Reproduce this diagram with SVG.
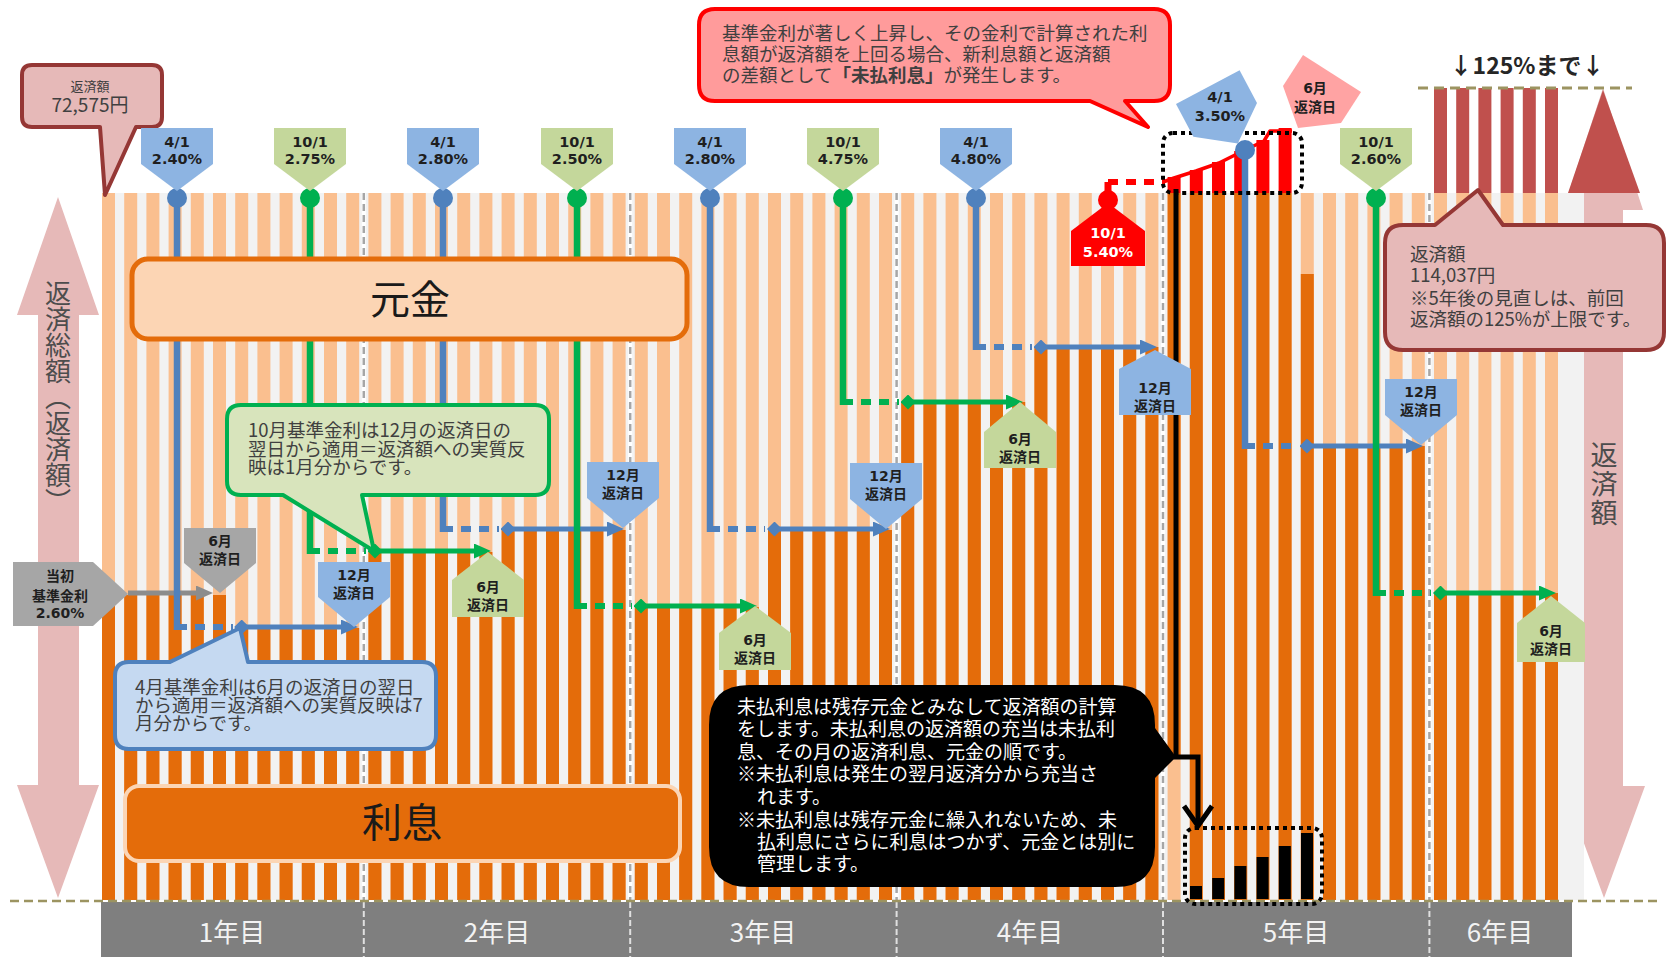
<svg xmlns="http://www.w3.org/2000/svg" width="1666" height="957" viewBox="0 0 1666 957">
<defs>
<style>
.jp{font-family:'Noto Sans CJK JP','Noto Sans CJK SC',sans-serif}
.num{font-family:'DejaVu Sans','Noto Sans CJK JP',sans-serif;font-weight:bold;text-anchor:middle;fill:#1F1F1F}
.rate{font-size:14.5px}
.day{font-size:14px}
.co{font-family:'Noto Sans CJK JP','Noto Sans CJK SC',sans-serif;font-size:18.5px;fill:#404040}
.wt{font-family:'Noto Sans CJK JP','Noto Sans CJK SC',sans-serif;font-size:19px;fill:#FFFFFF}
.yr{font-family:'Noto Sans CJK JP','Noto Sans CJK SC',sans-serif;font-size:26px;fill:#F2F2F2;text-anchor:middle}
.vl{fill:none;stroke-width:6.5}
.dot{fill:none;stroke-width:6;stroke-dasharray:10 8}
.sol{fill:none;stroke-width:5}
.blue{stroke:#4F81BD}
.green{stroke:#00B050}
.lblB{fill:#8DB4E2}
.lblG{fill:#C4D79B}
.lblY{fill:#A6A6A6}
.ydiv{stroke:#A6A6A6;stroke-width:2.5;stroke-dasharray:7 4}
</style>
<marker id="ahB" viewBox="0 0 17 15" preserveAspectRatio="none" refX="7" refY="7.5" markerWidth="17" markerHeight="15" markerUnits="userSpaceOnUse" orient="auto"><path d="M0,0L17,7.5L0,15Z" fill="#4F81BD"/></marker>
<marker id="ahG" viewBox="0 0 17 15" preserveAspectRatio="none" refX="7" refY="7.5" markerWidth="17" markerHeight="15" markerUnits="userSpaceOnUse" orient="auto"><path d="M0,0L17,7.5L0,15Z" fill="#00B050"/></marker>
<marker id="ahY" viewBox="0 0 17 15" preserveAspectRatio="none" refX="7" refY="7.5" markerWidth="17" markerHeight="15" markerUnits="userSpaceOnUse" orient="auto"><path d="M0,0L17,7.5L0,15Z" fill="#8C8C8C"/></marker>
<marker id="dmB" viewBox="0 0 15 15" refX="7.5" refY="7.5" markerWidth="15" markerHeight="15" markerUnits="userSpaceOnUse"><path d="M0,7.5L7.5,0L15,7.5L7.5,15Z" fill="#4F81BD"/></marker>
<marker id="dmG" viewBox="0 0 15 15" refX="7.5" refY="7.5" markerWidth="15" markerHeight="15" markerUnits="userSpaceOnUse"><path d="M0,7.5L7.5,0L15,7.5L7.5,15Z" fill="#00B050"/></marker>
</defs>

<rect width="1666" height="957" fill="#FFFFFF"/>

<!-- side arrows -->
<g id="axis-arrows">
<path d="M58,197 L99,315 H79 V785 H99 L58,898 L17,785 H38 V315 H17 Z" fill="#E6B9B8"/>
<path d="M1603,88 L1643,210 H1623 V786 H1645 L1604,898 L1563,786 H1583 V210 H1563 Z" fill="#E6B9B8"/>
<path d="M1603,90 L1640,193 H1568 Z" fill="#C0504D"/>
<text class="jp" x="58" y="280" font-size="26" fill="#4D4D4D" style="writing-mode:vertical-rl">返済総額（返済額）</text>
<text class="jp" x="1604" y="441" font-size="27" fill="#4D4D4D" style="writing-mode:vertical-rl;letter-spacing:2px">返済額</text>
</g>

<!-- chart background and bars -->
<g id="chart">
<rect x="102" y="193" width="1482" height="707" fill="#F2F2F2"/>
<g fill="#FABF8F">
<rect x="102" y="193" width="13" height="707"/><rect x="124.2" y="193" width="13" height="707"/><rect x="146.4" y="193" width="13" height="707"/><rect x="168.6" y="193" width="13" height="707"/><rect x="190.8" y="193" width="13" height="707"/><rect x="213" y="193" width="13" height="707"/>
<rect x="235.2" y="193" width="13" height="707"/><rect x="257.4" y="193" width="13" height="707"/><rect x="279.6" y="193" width="13" height="707"/><rect x="301.8" y="193" width="13" height="707"/><rect x="324" y="193" width="13" height="707"/><rect x="346.2" y="193" width="13" height="707"/>
<rect x="368.4" y="193" width="13" height="707"/><rect x="390.6" y="193" width="13" height="707"/><rect x="412.8" y="193" width="13" height="707"/><rect x="435" y="193" width="13" height="707"/><rect x="457.2" y="193" width="13" height="707"/><rect x="479.4" y="193" width="13" height="707"/>
<rect x="501.6" y="193" width="13" height="707"/><rect x="523.8" y="193" width="13" height="707"/><rect x="546" y="193" width="13" height="707"/><rect x="568.2" y="193" width="13" height="707"/><rect x="590.4" y="193" width="13" height="707"/><rect x="612.6" y="193" width="13" height="707"/>
<rect x="634.8" y="193" width="13" height="707"/><rect x="657" y="193" width="13" height="707"/><rect x="679.2" y="193" width="13" height="707"/><rect x="701.4" y="193" width="13" height="707"/><rect x="723.6" y="193" width="13" height="707"/><rect x="745.8" y="193" width="13" height="707"/>
<rect x="768" y="193" width="13" height="707"/><rect x="790.2" y="193" width="13" height="707"/><rect x="812.4" y="193" width="13" height="707"/><rect x="834.6" y="193" width="13" height="707"/><rect x="856.8" y="193" width="13" height="707"/><rect x="879" y="193" width="13" height="707"/>
<rect x="901.2" y="193" width="13" height="707"/><rect x="923.4" y="193" width="13" height="707"/><rect x="945.6" y="193" width="13" height="707"/><rect x="967.8" y="193" width="13" height="707"/><rect x="990" y="193" width="13" height="707"/><rect x="1012.2" y="193" width="13" height="707"/>
<rect x="1034.4" y="193" width="13" height="707"/><rect x="1056.6" y="193" width="13" height="707"/><rect x="1078.8" y="193" width="13" height="707"/><rect x="1101" y="193" width="13" height="707"/><rect x="1123.2" y="193" width="13" height="707"/><rect x="1145.4" y="193" width="13" height="707"/>
<rect x="1167.6" y="193" width="13" height="707"/><rect x="1189.8" y="193" width="13" height="707"/><rect x="1212" y="193" width="13" height="707"/><rect x="1234.2" y="193" width="13" height="707"/><rect x="1256.4" y="193" width="13" height="707"/><rect x="1278.6" y="193" width="13" height="707"/>
<rect x="1300.8" y="193" width="13" height="707"/><rect x="1323" y="193" width="13" height="707"/><rect x="1345.2" y="193" width="13" height="707"/><rect x="1367.4" y="193" width="13" height="707"/><rect x="1389.6" y="193" width="13" height="707"/><rect x="1411.8" y="193" width="13" height="707"/>
<rect x="1434" y="193" width="13" height="707"/><rect x="1456.2" y="193" width="13" height="707"/><rect x="1478.4" y="193" width="13" height="707"/><rect x="1500.6" y="193" width="13" height="707"/><rect x="1522.8" y="193" width="13" height="707"/><rect x="1545" y="193" width="13" height="707"/>
</g>
<g fill="#E46C0A">
<rect x="102" y="595" width="13" height="305"/><rect x="124.2" y="595" width="13" height="305"/><rect x="146.4" y="595" width="13" height="305"/><rect x="168.6" y="595" width="13" height="305"/><rect x="190.8" y="595" width="13" height="305"/><rect x="213" y="595" width="13" height="305"/>
<rect x="235.2" y="628" width="13" height="272"/><rect x="257.4" y="628" width="13" height="272"/><rect x="279.6" y="628" width="13" height="272"/><rect x="301.8" y="628" width="13" height="272"/><rect x="324" y="628" width="13" height="272"/><rect x="346.2" y="628" width="13" height="272"/>
<rect x="368.4" y="552" width="13" height="348"/><rect x="390.6" y="552" width="13" height="348"/><rect x="412.8" y="552" width="13" height="348"/><rect x="435" y="552" width="13" height="348"/><rect x="457.2" y="552" width="13" height="348"/><rect x="479.4" y="552" width="13" height="348"/>
<rect x="501.6" y="530" width="13" height="370"/><rect x="523.8" y="530" width="13" height="370"/><rect x="546" y="530" width="13" height="370"/><rect x="568.2" y="530" width="13" height="370"/><rect x="590.4" y="530" width="13" height="370"/><rect x="612.6" y="530" width="13" height="370"/>
<rect x="634.8" y="607" width="13" height="293"/><rect x="657" y="607" width="13" height="293"/><rect x="679.2" y="607" width="13" height="293"/><rect x="701.4" y="607" width="13" height="293"/><rect x="723.6" y="607" width="13" height="293"/><rect x="745.8" y="607" width="13" height="293"/>
<rect x="768" y="530" width="13" height="370"/><rect x="790.2" y="530" width="13" height="370"/><rect x="812.4" y="530" width="13" height="370"/><rect x="834.6" y="530" width="13" height="370"/><rect x="856.8" y="530" width="13" height="370"/><rect x="879" y="530" width="13" height="370"/>
<rect x="901.2" y="402" width="13" height="498"/><rect x="923.4" y="402" width="13" height="498"/><rect x="945.6" y="402" width="13" height="498"/><rect x="967.8" y="402" width="13" height="498"/><rect x="990" y="402" width="13" height="498"/><rect x="1012.2" y="402" width="13" height="498"/>
<rect x="1034.4" y="347" width="13" height="553"/><rect x="1056.6" y="347" width="13" height="553"/><rect x="1078.8" y="347" width="13" height="553"/><rect x="1101" y="347" width="13" height="553"/><rect x="1123.2" y="347" width="13" height="553"/><rect x="1145.4" y="347" width="13" height="553"/>
<rect x="1167.6" y="193" width="13" height="564"/><rect x="1189.8" y="193" width="13" height="707"/><rect x="1212" y="193" width="13" height="707"/><rect x="1234.2" y="193" width="13" height="707"/><rect x="1256.4" y="193" width="13" height="707"/><rect x="1278.6" y="193" width="13" height="707"/>
<rect x="1300.8" y="274" width="13" height="626"/><rect x="1323" y="446" width="13" height="454"/><rect x="1345.2" y="446" width="13" height="454"/><rect x="1367.4" y="446" width="13" height="454"/><rect x="1389.6" y="446" width="13" height="454"/><rect x="1411.8" y="446" width="13" height="454"/>
<rect x="1434" y="593" width="13" height="307"/><rect x="1456.2" y="593" width="13" height="307"/><rect x="1478.4" y="593" width="13" height="307"/><rect x="1500.6" y="593" width="13" height="307"/><rect x="1522.8" y="593" width="13" height="307"/><rect x="1545" y="593" width="13" height="307"/>
</g>
<g fill="#C0504D">
<rect x="1434" y="88" width="13" height="105"/><rect x="1456.2" y="88" width="13" height="105"/><rect x="1478.4" y="88" width="13" height="105"/><rect x="1500.6" y="88" width="13" height="105"/><rect x="1522.8" y="88" width="13" height="105"/><rect x="1545" y="88" width="13" height="105"/>
</g>
<g fill="#FF0000">
<rect x="1167.6" y="177" width="13" height="16"/><rect x="1189.8" y="170" width="13" height="23"/><rect x="1212" y="162" width="13" height="31"/><rect x="1234.2" y="151" width="13" height="42"/><rect x="1256.4" y="140" width="13" height="53"/><rect x="1278.6" y="128" width="13" height="65"/>
</g>
<path d="M1163,182 L1174,178 L1196,171 L1219,163 L1241,152 L1264,141 L1270,131 H1292" fill="none" stroke="#FF0000" stroke-width="3.5" stroke-linejoin="round"/>
<g fill="#000000">
<rect x="1190" y="886" width="12" height="13"/><rect x="1212.2" y="878" width="12" height="21"/><rect x="1234.4" y="866" width="12" height="33"/><rect x="1256.6" y="857" width="12" height="42"/><rect x="1278.8" y="846" width="12" height="53"/><rect x="1301" y="833" width="12" height="66"/>
</g>
<g stroke="#FFFFFF" stroke-width="4">
<line x1="363.8" y1="193" x2="363.8" y2="900"/><line x1="630.2" y1="193" x2="630.2" y2="900"/><line x1="896.6" y1="193" x2="896.6" y2="900"/><line x1="1163" y1="193" x2="1163" y2="900"/><line x1="1429.4" y1="193" x2="1429.4" y2="900"/>
</g>
<g class="ydiv">
<line x1="363.8" y1="193" x2="363.8" y2="900"/><line x1="630.2" y1="193" x2="630.2" y2="900"/><line x1="896.6" y1="193" x2="896.6" y2="900"/><line x1="1163" y1="193" x2="1163" y2="900"/><line x1="1429.4" y1="193" x2="1429.4" y2="900"/>
</g>
<line x1="1418" y1="88" x2="1632" y2="88" stroke="#9C9461" stroke-width="3" stroke-dasharray="10 6"/>
</g>

<!-- year axis -->
<g id="year-axis">
<rect x="101" y="902" width="1471" height="55" fill="#7F7F7F"/>
<g stroke="#E0E0E0" stroke-width="2" stroke-dasharray="6 3">
<line x1="363.8" y1="902" x2="363.8" y2="957"/><line x1="630.2" y1="902" x2="630.2" y2="957"/><line x1="896.6" y1="902" x2="896.6" y2="957"/><line x1="1163" y1="902" x2="1163" y2="957"/><line x1="1429.4" y1="902" x2="1429.4" y2="957"/>
</g>
<line x1="10" y1="901" x2="1660" y2="901" stroke="#9C9461" stroke-width="2.5" stroke-dasharray="9 5"/>
<text class="yr" x="232" y="942">1年目</text>
<text class="yr" x="497" y="942">2年目</text>
<text class="yr" x="763" y="942">3年目</text>
<text class="yr" x="1030" y="942">4年目</text>
<text class="yr" x="1296" y="942">5年目</text>
<text class="yr" x="1500" y="942">6年目</text>
</g>

<!-- connectors -->
<g id="connectors">
<path class="sol" d="M128,593 H203" stroke="#8C8C8C" marker-end="url(#ahY)"/>
<g class="blue">
<path class="vl" d="M177,198 V630"/><path class="dot" d="M177,627 H233"/><path class="sol" d="M241.7,627 H348" marker-start="url(#dmB)" marker-end="url(#ahB)"/>
<path class="vl" d="M443,198 V532"/><path class="dot" d="M443,529 H499"/><path class="sol" d="M508,529 H614" marker-start="url(#dmB)" marker-end="url(#ahB)"/>
<path class="vl" d="M710,198 V532"/><path class="dot" d="M710,529 H765"/><path class="sol" d="M774.5,529 H880" marker-start="url(#dmB)" marker-end="url(#ahB)"/>
<path class="vl" d="M976,198 V350"/><path class="dot" d="M976,347 H1032"/><path class="sol" d="M1041,347 H1147" marker-start="url(#dmB)" marker-end="url(#ahB)"/>
<path class="vl" d="M1245,150 V449"/><path class="dot" d="M1245,446 H1298"/><path class="sol" d="M1307,446 H1413" marker-start="url(#dmB)" marker-end="url(#ahB)"/>
</g>
<g class="green">
<path class="vl" d="M310,198 V554"/><path class="dot" d="M310,551 H366"/><path class="sol" d="M375,551 H481" marker-start="url(#dmG)" marker-end="url(#ahG)"/>
<path class="vl" d="M577,198 V609"/><path class="dot" d="M577,606 H632"/><path class="sol" d="M641,606 H747" marker-start="url(#dmG)" marker-end="url(#ahG)"/>
<path class="vl" d="M843,198 V405"/><path class="dot" d="M843,402 H899"/><path class="sol" d="M908,402 H1013" marker-start="url(#dmG)" marker-end="url(#ahG)"/>
<path class="vl" d="M1376,198 V596"/><path class="dot" d="M1376,593 H1431"/><path class="sol" d="M1440.5,593 H1546" marker-start="url(#dmG)" marker-end="url(#ahG)"/>
</g>
<path d="M1108,200 V182" stroke="#FF0000" stroke-width="7" fill="none"/>
<path d="M1108,182 H1165" stroke="#FF0000" stroke-width="6" stroke-dasharray="10 8" fill="none"/>
<g fill="#4F81BD"><circle cx="177" cy="198" r="10"/><circle cx="443" cy="198" r="10"/><circle cx="710" cy="198" r="10"/><circle cx="976" cy="198" r="10"/><circle cx="1245" cy="150" r="10"/></g>
<g fill="#00B050"><circle cx="310" cy="198" r="10"/><circle cx="577" cy="198" r="10"/><circle cx="843" cy="198" r="10"/><circle cx="1376" cy="198" r="10"/></g>
<circle cx="1108" cy="200" r="10" fill="#FF0000"/>
</g>

<!-- principal / interest boxes -->
<g id="principal">
<rect x="132" y="259" width="555" height="80" rx="16" fill="#FCD5B4" stroke="#E46C0A" stroke-width="5"/>
<text class="jp" x="410" y="314" font-size="40" fill="#1A1A1A" text-anchor="middle">元金</text>
</g>
<g id="interest">
<rect x="125" y="786" width="555" height="75" rx="14" fill="#E46C0A" stroke="#FBD5B5" stroke-width="4"/>
<text class="jp" x="402" y="837" font-size="40" fill="#1A1A1A" text-anchor="middle">利息</text>
</g>

<!-- callouts -->
<g id="callout-initial-payment">
<path d="M32,65 H152 Q162,65 162,75 V117 Q162,127 152,127 H136 L105,195 L100,127 H32 Q22,127 22,117 V75 Q22,65 32,65 Z" fill="#E6B9B8" stroke="#953735" stroke-width="4" stroke-linejoin="round"/>
<text class="jp" x="90" y="91" font-size="13" fill="#404040" text-anchor="middle">返済額</text>
<text class="jp" x="90" y="112" font-size="19" fill="#404040" text-anchor="middle">72,575円</text>
</g>
<g id="callout-october">
<path d="M241,405 H535 Q549,405 549,419 V481 Q549,495 535,495 H362 L374,551 L283,495 H241 Q227,495 227,481 V419 Q227,405 241,405 Z" fill="#D8E4BC" stroke="#00B050" stroke-width="4" stroke-linejoin="round"/>
<text class="co" x="248" y="437">10月基準金利は12月の返済日の</text>
<text class="co" x="248" y="456">翌日から適用＝返済額への実質反</text>
<text class="co" x="248" y="474">映は1月分からです。</text>
</g>
<g id="callout-april">
<path d="M129,662 H170 L240,628 L248,662 H422 Q436,662 436,676 V735 Q436,749 422,749 H129 Q115,749 115,735 V676 Q115,662 129,662 Z" fill="#C5D9F1" stroke="#4F81BD" stroke-width="4" stroke-linejoin="round"/>
<text class="co" x="135" y="694">4月基準金利は6月の返済日の翌日</text>
<text class="co" x="135" y="712">から適用＝返済額への実質反映は7</text>
<text class="co" x="135" y="730">月分からです。</text>
</g>
<g id="callout-unpaid">
<path d="M715,9 H1154 Q1170,9 1170,25 V85 Q1170,101 1154,101 H1125 L1148,127 L1090,101 H715 Q699,101 699,85 V25 Q699,9 715,9 Z" fill="#FF9B9B" stroke="#FF0000" stroke-width="4" stroke-linejoin="round"/>
<text class="co" x="722" y="40" font-size="18.3" fill="#262626">基準金利が著しく上昇し、その金利で計算された利</text>
<text class="co" x="722" y="61" font-size="18.3" fill="#262626">息額が返済額を上回る場合、新利息額と返済額</text>
<text class="co" x="722" y="82" font-size="18.3" fill="#262626">の差額として<tspan font-weight="bold">「未払利息」</tspan>が発生します。</text>
</g>
<g id="callout-cap">
<path d="M1403,225 H1435 L1478,190 L1503,225 H1646 Q1664,225 1664,243 V332 Q1664,350 1646,350 H1403 Q1385,350 1385,332 V243 Q1385,225 1403,225 Z" fill="#E6B9B8" stroke="#953735" stroke-width="4" stroke-linejoin="round"/>
<text class="co" x="1410" y="261" font-size="19.5">返済額</text>
<text class="co" x="1410" y="282" font-size="19.5">114,037円</text>
<text class="co" x="1410" y="305" font-size="19.5">※5年後の見直しは、前回</text>
<text class="co" x="1410" y="326" font-size="19.5">返済額の125%が上限です。</text>
</g>
<g id="callout-black">
<path d="M749,685 H1115 Q1155,685 1155,725 V728 L1176,757 L1155,778 V847 Q1155,887 1115,887 H749 Q709,887 709,847 V725 Q709,685 749,685 Z" fill="#000000"/>
<text class="wt" x="737" y="714">未払利息は残存元金とみなして返済額の計算</text>
<text class="wt" x="737" y="736">をします。未払利息の返済額の充当は未払利</text>
<text class="wt" x="737" y="759">息、その月の返済利息、元金の順です。</text>
<text class="wt" x="737" y="781">※未払利息は発生の翌月返済分から充当さ</text>
<text class="wt" x="757" y="804">れます。</text>
<text class="wt" x="737" y="827">※未払利息は残存元金に繰入れないため、未</text>
<text class="wt" x="757" y="849">払利息にさらに利息はつかず、元金とは別に</text>
<text class="wt" x="757" y="871">管理します。</text>
</g>

<!-- unpaid interest marks -->
<g id="unpaid-marks">
<path d="M1176,189 V757 H1198 V824" fill="none" stroke="#000000" stroke-width="5"/>
<polyline points="1184,806 1198,826 1212,806" fill="none" stroke="#000000" stroke-width="5"/>
<rect x="1163" y="133" width="139" height="60" rx="10" fill="none" stroke="#000000" stroke-width="4" stroke-dasharray="4 4"/>
<rect x="1185" y="828" width="137" height="76" rx="10" fill="none" stroke="#000000" stroke-width="4" stroke-dasharray="4 4"/>
</g>

<!-- rate labels -->
<g id="rate-0401-240"><path class="lblB" d="M141,128 H213 V164 L177,191 L141,164 Z"/><text class="num rate" x="177" y="147">4/1</text><text class="num rate" x="177" y="164">2.40%</text></g>
<g id="rate-1001-275"><path class="lblG" d="M274,128 H346 V164 L310,191 L274,164 Z"/><text class="num rate" x="310" y="147">10/1</text><text class="num rate" x="310" y="164">2.75%</text></g>
<g id="rate-0401-280a"><path class="lblB" d="M407,128 H479 V164 L443,191 L407,164 Z"/><text class="num rate" x="443" y="147">4/1</text><text class="num rate" x="443" y="164">2.80%</text></g>
<g id="rate-1001-250"><path class="lblG" d="M541,128 H613 V164 L577,191 L541,164 Z"/><text class="num rate" x="577" y="147">10/1</text><text class="num rate" x="577" y="164">2.50%</text></g>
<g id="rate-0401-280b"><path class="lblB" d="M674,128 H746 V164 L710,191 L674,164 Z"/><text class="num rate" x="710" y="147">4/1</text><text class="num rate" x="710" y="164">2.80%</text></g>
<g id="rate-1001-475"><path class="lblG" d="M807,128 H879 V164 L843,191 L807,164 Z"/><text class="num rate" x="843" y="147">10/1</text><text class="num rate" x="843" y="164">4.75%</text></g>
<g id="rate-0401-480"><path class="lblB" d="M940,128 H1012 V164 L976,191 L940,164 Z"/><text class="num rate" x="976" y="147">4/1</text><text class="num rate" x="976" y="164">4.80%</text></g>
<g id="rate-1001-540"><path d="M1108,203 L1145,231 V266 H1071 V231 Z" fill="#FF0000"/><text class="num rate" x="1108" y="238" style="fill:#FFFFFF">10/1</text><text class="num rate" x="1108" y="257" style="fill:#FFFFFF">5.40%</text></g>
<g id="rate-0401-350"><path class="lblB" d="M1176,104 L1239.6,70.2 L1257,102.9 L1237.8,143.6 L1193.4,136.7 Z"/><text class="num rate" x="1220" y="102">4/1</text><text class="num rate" x="1220" y="121">3.50%</text></g>
<g id="rate-1001-260"><path class="lblG" d="M1340,128 H1412 V164 L1376,191 L1340,164 Z"/><text class="num rate" x="1376" y="147">10/1</text><text class="num rate" x="1376" y="164">2.60%</text></g>
<g id="rate-initial"><path class="lblY" d="M13,562 H93 L128,594 L93,626 H13 Z"/><text class="num day" x="60" y="581">当初</text><text class="num day" x="60" y="601">基準金利</text><text class="num day" x="60" y="618">2.60%</text></g>

<!-- payment day labels -->
<g id="pay-y1-jun"><path class="lblY" d="M184,528 H256 V563 L220,593 L184,563 Z"/><text class="num day" x="220" y="546">6月</text><text class="num day" x="220" y="564">返済日</text></g>
<g id="pay-y1-dec"><path class="lblB" d="M318,562 H390 V597 L354,627 L318,597 Z"/><text class="num day" x="354" y="580">12月</text><text class="num day" x="354" y="598">返済日</text></g>
<g id="pay-y2-jun"><path class="lblG" d="M488,552 L524,580 V617 H452 V580 Z"/><text class="num day" x="488" y="592">6月</text><text class="num day" x="488" y="610">返済日</text></g>
<g id="pay-y2-dec"><path class="lblB" d="M587,462 H659 V498 L623,528 L587,498 Z"/><text class="num day" x="623" y="480">12月</text><text class="num day" x="623" y="498">返済日</text></g>
<g id="pay-y3-jun"><path class="lblG" d="M755,606 L791,633 V670 H719 V633 Z"/><text class="num day" x="755" y="645">6月</text><text class="num day" x="755" y="663">返済日</text></g>
<g id="pay-y3-dec"><path class="lblB" d="M850,463 H922 V499 L886,529 L850,499 Z"/><text class="num day" x="886" y="481">12月</text><text class="num day" x="886" y="499">返済日</text></g>
<g id="pay-y4-jun"><path class="lblG" d="M1020,402 L1056,432 V468 H984 V432 Z"/><text class="num day" x="1020" y="444">6月</text><text class="num day" x="1020" y="462">返済日</text></g>
<g id="pay-y4-dec"><path class="lblB" d="M1155,350 L1191,369 V415 H1119 V369 Z"/><text class="num day" x="1155" y="393">12月</text><text class="num day" x="1155" y="411">返済日</text></g>
<g id="pay-y5-jun"><path d="M1303,55 L1361,92 L1341,123 L1298,128 L1283,86 Z" fill="#FFA3A3"/><text class="num day" x="1315" y="93">6月</text><text class="num day" x="1315" y="112">返済日</text></g>
<g id="pay-y5-dec"><path class="lblB" d="M1385,379 H1457 V415 L1421,445 L1385,415 Z"/><text class="num day" x="1421" y="397">12月</text><text class="num day" x="1421" y="415">返済日</text></g>
<g id="pay-y6-jun"><path class="lblG" d="M1551,596 L1585,623 V662 H1517 V623 Z"/><text class="num day" x="1551" y="636">6月</text><text class="num day" x="1551" y="654">返済日</text></g>

<g id="cap-note">
<text class="jp" x="1527" y="74" font-size="23" font-weight="bold" fill="#262626" text-anchor="middle">↓125%まで↓</text>
</g>
</svg>
